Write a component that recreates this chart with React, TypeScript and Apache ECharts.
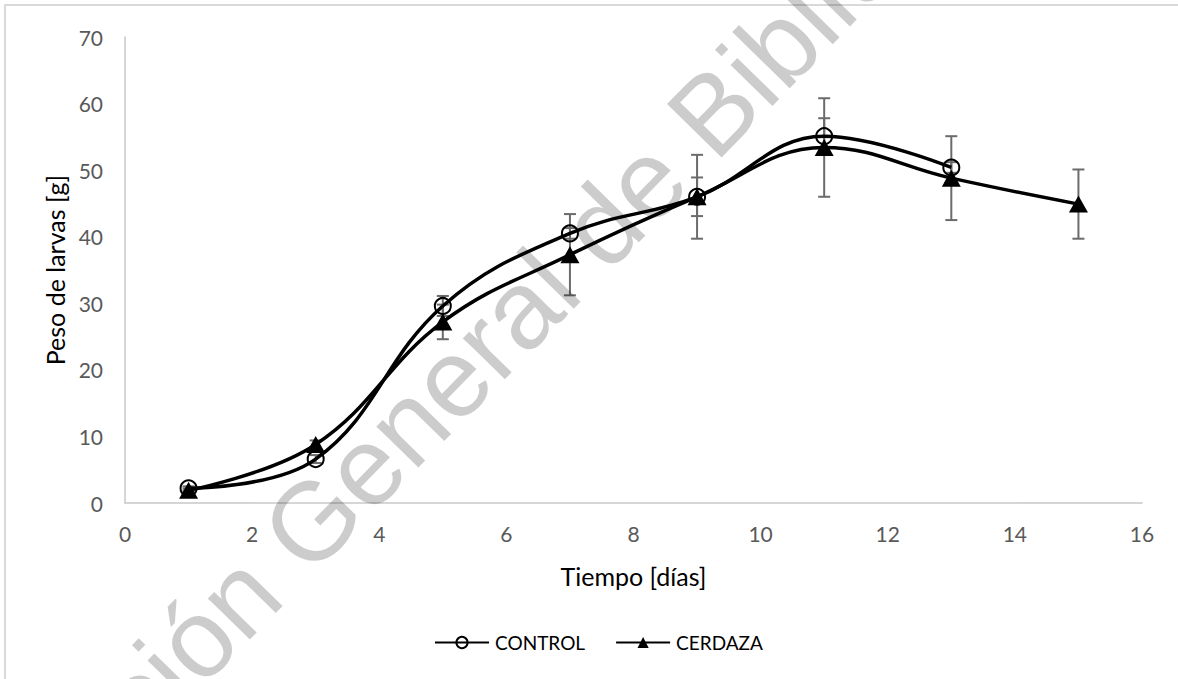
import React, { useEffect, useRef } from "react";
import * as echarts from "echarts";

const days = [1, 3, 5, 7, 9, 11, 13, 15];
const controlValues = [2.2, 6.6, 29.6, 40.5, 46.0, 55.1, 50.4];
const controlErrors = [0.3, 0.6, 1.5, 0.8, 2.9, 2.7, 0.8];
const cerdazaValues = [1.9, 8.8, 27.2, 37.3, 46.0, 53.4, 48.8, 44.9];
const cerdazaErrors = [0.3, 0.6, 2.6, 6.1, 6.3, 7.4, 6.3, 5.2];
const legendNames = ["CONTROL", "CERDAZA"];
const xTitle = "Tiempo [días]";
const yTitle = "Peso de larvas [g]";
const watermark = "Dirección General de Bibliotecas";

const FONT = "Lato";

export default function App() {
  const ref = useRef<HTMLDivElement>(null);
  useEffect(() => {
    if (!ref.current) return;
    const chart = echarts.init(ref.current, null, { renderer: "svg" });
    const ctrlData = controlValues.map((v, i) => [days[i], v]);
    const cerdData = cerdazaValues.map((v, i) => [days[i], v]);
    const ctrlErr = controlValues.map((v, i) => [days[i], v - controlErrors[i], v + controlErrors[i]]);
    const cerdErr = cerdazaValues.map((v, i) => [days[i], v - cerdazaErrors[i], v + cerdazaErrors[i]]);
    const renderErr = (params: any, api: any) => {
      const x = api.value(0);
      const lo = api.value(1);
      const hi = api.value(2);
      const a = api.coord([x, hi]);
      const b = api.coord([x, lo]);
      const hw = 6;
      const style = { stroke: "#6b6b6b", lineWidth: 2 };
      return {
        type: "group",
        children: [
          { type: "line", shape: { x1: a[0], y1: a[1], x2: b[0], y2: b[1] }, style },
          { type: "line", shape: { x1: a[0] - hw, y1: a[1], x2: a[0] + hw, y2: a[1] }, style },
          { type: "line", shape: { x1: b[0] - hw, y1: b[1], x2: b[0] + hw, y2: b[1] }, style },
        ],
      };
    };
    chart.setOption({
      animation: false,
      backgroundColor: "#ffffff",
      grid: { left: 125, right: 36, top: 37, bottom: 176 },
      xAxis: {
        type: "value",
        min: 0,
        max: 16,
        interval: 2,
        name: xTitle,
        nameLocation: "middle",
        nameGap: 60,
        nameTextStyle: { fontFamily: FONT, fontSize: 25, color: "#000" },
        axisLine: { show: true, lineStyle: { color: "#c8c8c8", width: 1.5 } },
        axisTick: { show: false },
        splitLine: { show: false },
        axisLabel: { fontFamily: FONT, fontSize: 21, color: "#595959", margin: 20 },
      },
      yAxis: {
        type: "value",
        min: 0,
        max: 70,
        interval: 10,
        name: yTitle,
        nameLocation: "middle",
        nameGap: 55,
        nameTextStyle: { fontFamily: FONT, fontSize: 25, color: "#000" },
        axisLine: { show: true, lineStyle: { color: "#c8c8c8", width: 1.5 } },
        axisTick: { show: false },
        splitLine: { show: false },
        axisLabel: { fontFamily: FONT, fontSize: 21, color: "#595959", margin: 22 },
      },
      legend: {
        data: legendNames,
        left: 434,
        top: 633,
        padding: 0,
        itemWidth: 54,
        itemHeight: 14,
        itemGap: 30,
        textStyle: { fontFamily: FONT, fontSize: 19, color: "#000", padding: [0, 0, 0, 1] },
      },
      graphic: [
        {
          type: "rect",
          shape: { x: 5, y: 5, width: 1250, height: 750 },
          style: { fill: "none", stroke: "#d9d9d9", lineWidth: 2 },
          silent: true,
          z: -10,
        },
        {
          type: "text",
          x: 500,
          y: 329,
          rotation: 0.796,
          silent: true,
          z: 100,
          style: {
            text: watermark,
            fontFamily: "Liberation Sans",
            fontSize: 111,
            fill: "rgba(0,0,0,0.2)",
            align: "center",
            verticalAlign: "middle",
          },
        },
      ],
      series: [
        {
          type: "custom",
          name: "CONTROL-err",
          renderItem: renderErr,
          data: ctrlErr,
          encode: { x: 0, y: [1, 2] },
          z: 1,
          silent: true,
        },
        {
          type: "custom",
          name: "CERDAZA-err",
          renderItem: renderErr,
          data: cerdErr,
          encode: { x: 0, y: [1, 2] },
          z: 1,
          silent: true,
        },
        {
          type: "line",
          name: "CONTROL",
          data: ctrlData,
          smooth: 0.4,
          symbol: "circle",
          symbolSize: 16,
          lineStyle: { color: "#000", width: 3.5 },
          itemStyle: { color: "rgba(255,255,255,0)", borderColor: "#000", borderWidth: 2 },
          z: 3,
        },
        {
          type: "line",
          name: "CERDAZA",
          data: cerdData,
          smooth: 0.4,
          symbol: "triangle",
          symbolSize: [19, 17],
          lineStyle: { color: "#000", width: 3.5 },
          itemStyle: { color: "#000" },
          z: 3,
        },
      ],
    });
    return () => chart.dispose();
  }, []);
  return (
    <div
      ref={ref}
      style={{ position: "fixed", left: 0, top: 0, width: 1178, height: 679 }}
    />
  );
}
